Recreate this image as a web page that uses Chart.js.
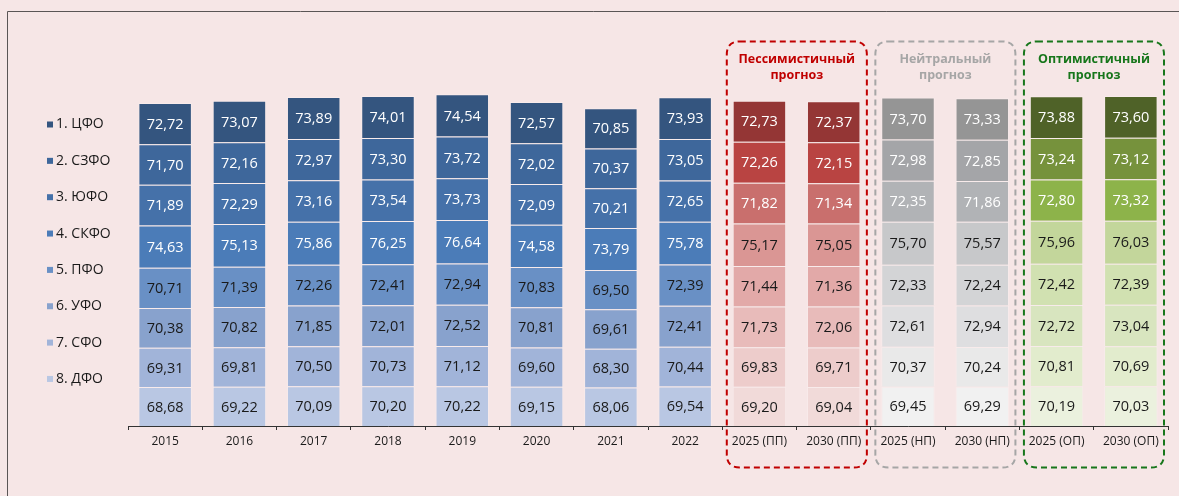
<!DOCTYPE html>
<html>
<head>
<meta charset="utf-8">
<script src="https://cdn.jsdelivr.net/npm/chart.js@4/dist/chart.umd.min.js"></script>
<style>
  html,body{margin:0;padding:0;background:#F6E6E6;}
  #wrap{width:1179px;height:496px;position:relative;}
</style>
</head>
<body>
<div id="wrap"><canvas id="c" width="1179" height="496"></canvas></div>
<script>
// ---- Data ----
const categories = ['2015','2016','2017','2018','2019','2020','2021','2022',
  '2025 (ПП)','2030 (ПП)','2025 (НП)','2030 (НП)','2025 (ОП)','2030 (ОП)'];
const regionNames = ['1. ЦФО','2. СЗФО','3. ЮФО','4. СКФО','5. ПФО','6. УФО','7. СФО','8. ДФО'];
const cfo  = [72.72,73.07,73.89,74.01,74.54,72.57,70.85,73.93,72.73,72.37,73.70,73.33,73.88,73.60];
const szfo = [71.70,72.16,72.97,73.30,73.72,72.02,70.37,73.05,72.26,72.15,72.98,72.85,73.24,73.12];
const yufo = [71.89,72.29,73.16,73.54,73.73,72.09,70.21,72.65,71.82,71.34,72.35,71.86,72.80,73.32];
const skfo = [74.63,75.13,75.86,76.25,76.64,74.58,73.79,75.78,75.17,75.05,75.70,75.57,75.96,76.03];
const pfo  = [70.71,71.39,72.26,72.41,72.94,70.83,69.50,72.39,71.44,71.36,72.33,72.24,72.42,72.39];
const ufo  = [70.38,70.82,71.85,72.01,72.52,70.81,69.61,72.41,71.73,72.06,72.61,72.94,72.72,73.04];
const sfo  = [69.31,69.81,70.50,70.73,71.12,69.60,68.30,70.44,69.83,69.71,70.37,70.24,70.81,70.69];
const dfo  = [68.68,69.22,70.09,70.20,70.22,69.15,68.06,69.54,69.20,69.04,69.45,69.29,70.19,70.03];
const regionValues = [cfo, szfo, yufo, skfo, pfo, ufo, sfo, dfo];

// scenario of each category: h = history, p = pessimistic, n = neutral, o = optimistic
const scenario = ['h','h','h','h','h','h','h','h','p','p','n','n','o','o'];
const forecastGroups = [
  {lines:['Пессимистичный','прогноз'], from:8, to:9, color:'#C00000'},
  {lines:['Нейтральный','прогноз'],    from:10, to:11, color:'#A6A6A6'},
  {lines:['Оптимистичный','прогноз'],  from:12, to:13, color:'#17761B'}
];

// ---- Styles ----
const palettes = {
  h: ['#34557F','#3E679B','#4571A9','#4B7CB8','#6990C5','#88A2CD','#A1B4D9','#B9C7E3'],
  p: ['#943635','#B94442','#C96F6D','#DA9694','#E2A9A8','#E8BBBA','#EDCCCB','#F1DAD9'],
  n: ['#959595','#A4A5A8','#B1B3B6','#C7C8CA','#D3D4D6','#DEDEE0','#E9E9E9','#F1F1F1'],
  o: ['#4F6228','#76923C','#8DB34A','#C3D69B','#D1E1B1','#D8E5BF','#E2ECCD','#EBF1DE']
};
function whiteText(r, s){ return s === 'h' ? r <= 3 : r <= 2; }

const datasets = [];
for (let r = regionValues.length - 1; r >= 0; r--) {
  datasets.push({
    label: regionNames[r],
    data: regionValues[r],
    regionIndex: r,
    backgroundColor: scenario.map(s => palettes[s][r]),
    borderColor: 'rgba(255,255,255,0.22)',
    borderWidth: 1,
    borderSkipped: 'start',
    barPercentage: 0.72,
    categoryPercentage: 1.0
  });
}

const FONT = '"Open Sans", "Liberation Sans", sans-serif';

const bgPlugin = {
  id: 'bg',
  beforeDraw(chart) {
    const ctx = chart.ctx;
    ctx.save();
    ctx.fillStyle = '#F6E6E6';
    ctx.fillRect(0, 0, chart.width, chart.height);
    ctx.strokeStyle = '#5a5555';
    ctx.lineWidth = 1;
    ctx.beginPath();
    ctx.moveTo(7.5, chart.height);
    ctx.lineTo(7.5, 11.5);
    ctx.lineTo(chart.width, 11.5);
    ctx.stroke();
    // legend
    ctx.font = '14px ' + FONT;
    ctx.textBaseline = 'middle';
    ctx.textAlign = 'left';
    for (let r = 0; r < regionNames.length; r++) {
      const y = 124.5 + r * 36.35;
      ctx.fillStyle = palettes.h[r];
      ctx.fillRect(47, y - 3, 6, 6);
      ctx.fillStyle = '#1a1a1a';
      ctx.fillText(regionNames[r], 56, y);
    }
    ctx.restore();
  }
};

const overlayPlugin = {
  id: 'overlay',
  afterDatasetsDraw(chart) {
    const ctx = chart.ctx;
    ctx.save();
    // value labels
    ctx.font = '14.5px ' + FONT;
    ctx.textAlign = 'center';
    ctx.textBaseline = 'middle';
    chart.data.datasets.forEach((ds, di) => {
      const meta = chart.getDatasetMeta(di);
      meta.data.forEach((el, i) => {
        const v = ds.data[i];
        const y = (el.y + el.base) / 2 + 1;
        ctx.fillStyle = whiteText(ds.regionIndex, scenario[i]) ? '#FFFFFF' : '#1a1a1a';
        ctx.fillText(v.toFixed(2).replace('.', ','), el.x, y);
      });
    });
    // forecast group frames
    const xs = chart.scales.x;
    const step = (xs.right - xs.left) / categories.length;
    forecastGroups.forEach(g => {
      const left = xs.left + g.from * step + 4.5;
      const right = xs.left + (g.to + 1) * step - 4;
      const top = 41.5, bottom = 467.5, rad = 13;
      ctx.strokeStyle = g.color;
      ctx.lineWidth = 2;
      ctx.setLineDash([6, 4]);
      ctx.beginPath();
      ctx.moveTo(left + rad, top);
      ctx.lineTo(right - rad, top);
      ctx.quadraticCurveTo(right, top, right, top + rad);
      ctx.lineTo(right, bottom - rad);
      ctx.quadraticCurveTo(right, bottom, right - rad, bottom);
      ctx.lineTo(left + rad, bottom);
      ctx.quadraticCurveTo(left, bottom, left, bottom - rad);
      ctx.lineTo(left, top + rad);
      ctx.quadraticCurveTo(left, top, left + rad, top);
      ctx.stroke();
      ctx.setLineDash([]);
      ctx.fillStyle = g.color;
      ctx.font = 'bold 12.5px ' + FONT;
      const cx = (left + right) / 2;
      ctx.fillText(g.lines[0], cx, 59.5);
      ctx.fillText(g.lines[1], cx, 75);
    });
    ctx.restore();
  }
};

new Chart(document.getElementById('c'), {
  type: 'bar',
  data: { labels: categories, datasets },
  options: {
    responsive: false,
    animation: false,
    events: [],
    layout: { padding: { left: 128, right: 11, top: 86, bottom: 43.6 } },
    plugins: { legend: { display: false }, title: { display: false }, tooltip: { enabled: false } },
    scales: {
      x: {
        stacked: true,
        grid: { display: true, drawOnChartArea: false, drawTicks: true, tickLength: 4, color: '#333', offset: true },
        border: { display: true, color: '#333', width: 1 },
        ticks: { color: '#1a1a1a', font: { family: FONT, size: 12 }, padding: 4, maxRotation: 0, autoSkip: false }
      },
      y: {
        stacked: true,
        display: false,
        min: 0,
        max: 600
      }
    }
  },
  plugins: [bgPlugin, overlayPlugin]
});
</script>
</body>
</html>
